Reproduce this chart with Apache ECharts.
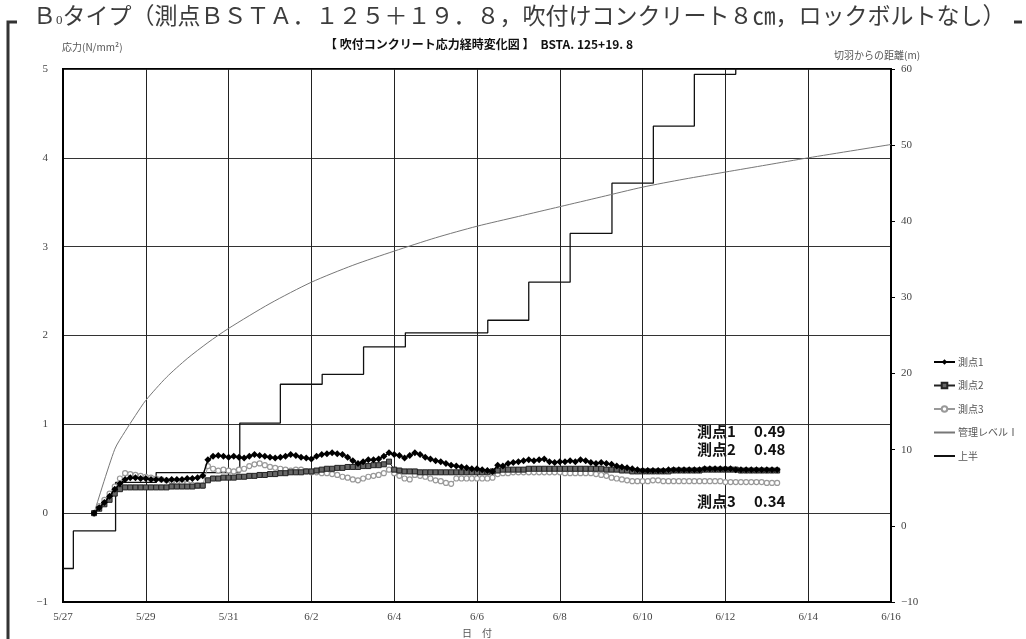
<!DOCTYPE html>
<html>
<head>
<meta charset="utf-8">
<script src="https://cdn.jsdelivr.net/npm/echarts@6/dist/echarts.min.js"></script>
<style>
  html, body { margin: 0; padding: 0; background: #fff; }
  #chart { width: 1026px; height: 639px; }
</style>
</head>
<body>
<div id="chart"></div>
<script>
// Date tick labels, one every two days starting 5/27 (day 0)
const dateLabels = ['5/27', '5/29', '5/31', '6/2', '6/4', '6/6', '6/8', '6/10', '6/12', '6/14', '6/16'];

// Shotcrete stress readings (N/mm²), sampled every 3 hours from day 0.75
const sampleStart = 0.75;
const sampleStep = 0.125;

const point1 = [
  0.00, 0.06, 0.12, 0.19, 0.27, 0.33, 0.38, 0.40,
  0.40, 0.39, 0.39, 0.38, 0.38, 0.38, 0.37, 0.38,
  0.38, 0.38, 0.39, 0.39, 0.40, 0.42, 0.60, 0.64,
  0.65, 0.64, 0.63, 0.64, 0.63, 0.62, 0.64, 0.66,
  0.65, 0.64, 0.63, 0.62, 0.63, 0.64, 0.66, 0.65,
  0.63, 0.62, 0.61, 0.64, 0.66, 0.67, 0.68, 0.67,
  0.66, 0.63, 0.59, 0.56, 0.58, 0.60, 0.60, 0.61,
  0.64, 0.68, 0.66, 0.65, 0.62, 0.65, 0.68, 0.66,
  0.63, 0.61, 0.59, 0.58, 0.56, 0.54, 0.53, 0.52,
  0.51, 0.50, 0.50, 0.49, 0.48, 0.47, 0.54, 0.53,
  0.56, 0.57, 0.58, 0.59, 0.60, 0.59, 0.60, 0.61,
  0.58, 0.57, 0.58, 0.58, 0.59, 0.58, 0.60, 0.59,
  0.57, 0.56, 0.57, 0.56, 0.55, 0.53, 0.52, 0.51,
  0.50, 0.49, 0.48, 0.48, 0.48, 0.48, 0.48, 0.49,
  0.49, 0.49, 0.49, 0.49, 0.49, 0.49, 0.50, 0.50,
  0.50, 0.50, 0.50, 0.50, 0.49, 0.49, 0.49, 0.49,
  0.49, 0.49, 0.49, 0.49, 0.49
];

const point2 = [
  0.00, 0.05, 0.10, 0.15, 0.22, 0.27, 0.29, 0.29,
  0.29, 0.29, 0.29, 0.29, 0.29, 0.29, 0.29, 0.30,
  0.30, 0.30, 0.30, 0.30, 0.31, 0.31, 0.37, 0.39,
  0.39, 0.40, 0.40, 0.40, 0.41, 0.41, 0.42, 0.42,
  0.43, 0.43, 0.44, 0.44, 0.45, 0.45, 0.46, 0.46,
  0.46, 0.47, 0.47, 0.48, 0.49, 0.50, 0.50, 0.51,
  0.51, 0.52, 0.52, 0.52, 0.53, 0.53, 0.54, 0.54,
  0.55, 0.58, 0.49, 0.48, 0.47, 0.47, 0.47, 0.46,
  0.46, 0.46, 0.46, 0.46, 0.46, 0.46, 0.46, 0.46,
  0.46, 0.46, 0.46, 0.46, 0.46, 0.47, 0.48, 0.49,
  0.49, 0.49, 0.49, 0.49, 0.50, 0.50, 0.50, 0.50,
  0.50, 0.50, 0.50, 0.50, 0.50, 0.50, 0.50, 0.50,
  0.50, 0.50, 0.50, 0.49, 0.49, 0.49, 0.48, 0.48,
  0.47, 0.47, 0.47, 0.47, 0.47, 0.47, 0.47, 0.47,
  0.48, 0.48, 0.48, 0.48, 0.48, 0.48, 0.49, 0.49,
  0.49, 0.49, 0.49, 0.49, 0.49, 0.48, 0.48, 0.48,
  0.48, 0.48, 0.48, 0.48, 0.48
];

const point3 = [
  0.00, 0.08, 0.15, 0.22, 0.30, 0.39, 0.45, 0.44,
  0.43, 0.42, 0.41, 0.40, 0.39, 0.38, 0.37, 0.36,
  0.35, 0.34, 0.33, 0.32, 0.31, 0.31, 0.53, 0.50,
  0.48, 0.49, 0.48, 0.47, 0.49, 0.50, 0.53, 0.55,
  0.56, 0.54, 0.52, 0.51, 0.50, 0.49, 0.48, 0.49,
  0.49, 0.47, 0.46, 0.46, 0.45, 0.45, 0.44, 0.43,
  0.41, 0.40, 0.38, 0.37, 0.39, 0.41, 0.42, 0.43,
  0.45, 0.49, 0.45, 0.42, 0.39, 0.38, 0.43, 0.42,
  0.41, 0.39, 0.37, 0.36, 0.34, 0.33, 0.39, 0.39,
  0.39, 0.39, 0.39, 0.39, 0.39, 0.40, 0.44, 0.45,
  0.45, 0.46, 0.46, 0.46, 0.46, 0.46, 0.46, 0.46,
  0.46, 0.46, 0.46, 0.45, 0.45, 0.45, 0.45, 0.45,
  0.45, 0.44, 0.43, 0.42, 0.40, 0.39, 0.38, 0.37,
  0.36, 0.36, 0.36, 0.36, 0.37, 0.37, 0.36, 0.36,
  0.36, 0.36, 0.36, 0.36, 0.36, 0.36, 0.36, 0.36,
  0.36, 0.36, 0.35, 0.35, 0.35, 0.35, 0.35, 0.35,
  0.35, 0.35, 0.34, 0.34, 0.34
];

// Management level I (N/mm²)
const levelDays   = [0.75, 1.25, 1.5, 1.75, 2.0, 2.5, 3.0, 3.5, 4.0, 5.0, 6.0, 7.0, 8.0, 9.0, 10.0, 11.0, 12.0, 13.0, 14.0, 15.0, 16.0, 17.0, 18.0, 20.0];
const levelValues = [0.00, 0.72, 0.92, 1.10, 1.27, 1.53, 1.74, 1.92, 2.08, 2.36, 2.60, 2.79, 2.95, 3.10, 3.23, 3.34, 3.45, 3.56, 3.67, 3.76, 3.84, 3.92, 4.00, 4.15];

// Distance of the upper-half face from the gauge (m)
const faceDays = [0, 0.25, 1.27, 2.25, 4.27, 5.25, 6.26, 7.26, 8.27, 10.26, 11.25, 12.25, 13.26, 14.26, 15.25, 16.25];
const faceDist = [-5.6, -0.66, 5.7, 7.0, 13.5, 18.6, 19.9, 23.5, 25.35, 27.0, 32.0, 38.4, 45.0, 52.5, 59.3, 66.0];

const pairs = (xs, ys) => ys.map((y, i) => [xs[i], y]);
const sampled = ys => ys.map((y, i) => [sampleStart + i * sampleStep, y]);
const minusSign = v => String(v).replace('-', '−');
const last = arr => arr[arr.length - 1].toFixed(2);

const serifFont = "'Liberation Serif', 'DejaVu Serif', 'Noto Sans CJK JP', serif";
const cjkFont = "'Noto Sans CJK JP', sans-serif";
const noMarker = { color: 'rgba(0,0,0,0)', borderColor: 'rgba(0,0,0,0)' };

const chart = echarts.init(document.getElementById('chart'), null, { renderer: 'canvas' });

const noteStyle = { fontSize: 15, fontWeight: 'bold', fontFamily: cjkFont, fill: '#111' };

chart.setOption({
  animation: false,
  backgroundColor: '#fff',
  grid: {
    left: 63, right: 135, top: 69, bottom: 37,
    containLabel: false, outerBoundsMode: 'none',
    show: true, borderColor: '#000', borderWidth: 2
  },
  legend: {
    orient: 'vertical', left: 933, top: 356, padding: 0,
    itemWidth: 21, itemHeight: 7, itemGap: 11.5,
    data: ['測点1', '測点2', '測点3', '管理レベルⅠ', '上半'],
    textStyle: { fontSize: 10, color: '#555', fontFamily: cjkFont, lineHeight: 12, padding: [0, 0, 0, -2] }
  },
  xAxis: {
    type: 'value', min: 0, max: 20, interval: 2,
    name: '日　付', nameLocation: 'middle', nameGap: 26,
    nameTextStyle: { fontSize: 10, color: '#555', fontFamily: cjkFont },
    axisLine: { onZero: false, lineStyle: { color: '#000', width: 2 } },
    axisTick: { show: false },
    axisLabel: { margin: 10, fontSize: 11, color: '#444', fontFamily: serifFont,
      formatter: v => dateLabels[Math.round(v / 2)] },
    splitLine: { show: true, lineStyle: { color: '#222', width: 1 } }
  },
  yAxis: [
    {
      type: 'value', min: -1, max: 5, interval: 1, position: 'left',
      axisLine: { show: true, onZero: false, lineStyle: { color: '#000', width: 2 } },
      axisTick: { show: false },
      axisLabel: { margin: 15, fontSize: 11, color: '#444', fontFamily: serifFont, formatter: minusSign },
      splitLine: { show: true, lineStyle: { color: '#333', width: 1 } }
    },
    {
      type: 'value', min: -10, max: 60, interval: 10, position: 'right',
      axisLine: { show: true, onZero: false, lineStyle: { color: '#000', width: 2 } },
      axisTick: { show: true, length: 4, lineStyle: { color: '#000', width: 1 } },
      axisLabel: { margin: 10, fontSize: 11, color: '#444', fontFamily: serifFont, formatter: minusSign },
      splitLine: { show: false }
    }
  ],
  series: [
    {
      name: '上半', type: 'line', yAxisIndex: 1, step: 'end', z: 2,
      data: pairs(faceDays, faceDist), symbol: 'none', clip: true,
      lineStyle: { color: '#111', width: 1.3 }, itemStyle: noMarker
    },
    {
      name: '管理レベルⅠ', type: 'line', yAxisIndex: 0, z: 2,
      data: pairs(levelDays, levelValues), symbol: 'none', smooth: 0.25,
      lineStyle: { color: '#777', width: 1 }, itemStyle: noMarker
    },
    {
      name: '測点3', type: 'line', z: 3, showAllSymbol: true,
      data: sampled(point3), symbol: 'circle', symbolSize: 5,
      lineStyle: { color: '#999', width: 1 },
      itemStyle: { color: '#fff', borderColor: '#999', borderWidth: 1.2 }
    },
    {
      name: '測点2', type: 'line', z: 4, showAllSymbol: true,
      data: sampled(point2), symbol: 'rect', symbolSize: 5,
      lineStyle: { color: '#222', width: 1 },
      itemStyle: { color: '#666', borderColor: '#222', borderWidth: 1 }
    },
    {
      name: '測点1', type: 'line', z: 5, showAllSymbol: true,
      data: sampled(point1), symbol: 'diamond', symbolSize: 7,
      lineStyle: { color: '#000', width: 1.5 },
      itemStyle: { color: '#000' }
    }
  ],
  graphic: [
    // frame corner around the figure
    { type: 'polyline', shape: { points: [[17, 22], [8, 22], [8, 639]] }, style: { stroke: '#333', lineWidth: 3, fill: null } },
    { type: 'line', shape: { x1: 1014, y1: 22, x2: 1022, y2: 22 }, style: { stroke: '#333', lineWidth: 3 } },
    {
      type: 'text', left: 33, top: 4,
      style: {
        text: '{a|Ｂ}{s|0}{a|タイプ（測点ＢＳＴＡ．１２５＋１９．８，吹付けコンクリート８㎝，ロックボルトなし）}',
        rich: {
          a: { fontSize: 23, fontFamily: cjkFont, fill: '#3c3c3c' },
          s: { fontSize: 13, fontFamily: serifFont, fill: '#3c3c3c', verticalAlign: 'bottom' }
        }
      }
    },
    {
      type: 'text', left: 325, top: 38,
      style: { text: '【 吹付コンクリート応力経時変化図 】　BSTA. 125+19. 8', fontSize: 12, fontWeight: 'bold', fontFamily: cjkFont, fill: '#111' }
    },
    { type: 'text', left: 62, top: 42, style: { text: '応力(N/mm²)', fontSize: 10, fontFamily: cjkFont, fill: '#555' } },
    { type: 'text', left: 834, top: 50, style: { text: '切羽からの距離(m)', fontSize: 10, fontFamily: cjkFont, fill: '#555' } },
    { type: 'text', left: 697, top: 424, style: Object.assign({ text: '測点1' }, noteStyle) },
    { type: 'text', left: 754, top: 424, style: Object.assign({ text: last(point1) }, noteStyle) },
    { type: 'text', left: 697, top: 442, style: Object.assign({ text: '測点2' }, noteStyle) },
    { type: 'text', left: 754, top: 442, style: Object.assign({ text: last(point2) }, noteStyle) },
    { type: 'text', left: 697, top: 494, style: Object.assign({ text: '測点3' }, noteStyle) },
    { type: 'text', left: 754, top: 494, style: Object.assign({ text: last(point3) }, noteStyle) }
  ]
});
</script>
</body>
</html>
